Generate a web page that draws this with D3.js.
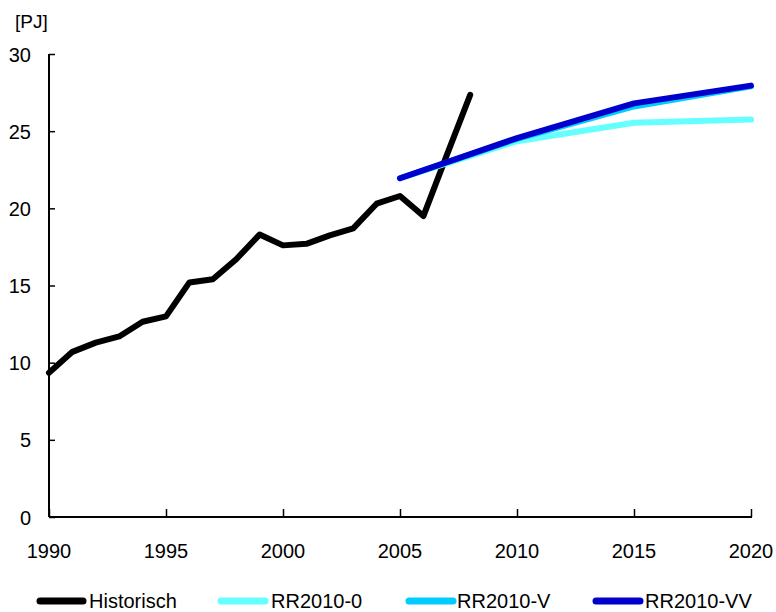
<!DOCTYPE html>
<html><head><meta charset="utf-8">
<script src="https://cdn.jsdelivr.net/npm/d3@7"></script>
<style>body{margin:0;background:#fff}svg{display:block}text{font-family:"Liberation Sans",Arial,sans-serif;fill:#000}</style>
</head><body>
<svg id="c" width="776" height="612"></svg>
<script>
const histYears = [1990,1991,1992,1993,1994,1995,1996,1997,1998,1999,2000,2001,2002,2003,2004,2005,2006,2007,2008];
const histValues = [9.35,10.7,11.3,11.7,12.65,13.0,15.2,15.4,16.7,18.3,17.6,17.7,18.25,18.7,20.3,20.8,19.5,23.45,27.35];
const scenYears = [2005,2010,2015,2020];
const rr0Values = [21.95,24.35,25.55,25.75];
const rrVValues = [21.95,24.5,26.6,27.9];
const rrVVValues = [21.95,24.55,26.8,27.95];
const xTicks = [1990,1995,2000,2005,2010,2015,2020];
const yTicks = [0,5,10,15,20,25,30];
const seriesNames = ["Historisch","RR2010-0","RR2010-V","RR2010-VV"];
const seriesColors = ["#000000","#66FFFF","#00CCFF","#0000CC"];

const svg = d3.select("#c");
const x = d3.scaleLinear().domain([1990,2020]).range([49,751]);
const y = d3.scaleLinear().domain([0,30]).range([517,54]);

// y axis
const yAxis = svg.append("g").attr("transform","translate(49,0)")
  .call(d3.axisRight(y).tickValues(yTicks).tickSize(6).tickFormat(""));
yAxis.select(".domain").attr("d","M0,54V517").attr("stroke","#000").attr("stroke-width",2);
yAxis.selectAll(".tick line").attr("stroke","#000").attr("stroke-width",1.5);
svg.selectAll(".ylab").data(yTicks).enter().append("text")
  .attr("x",31).attr("y",d=>y(d)+7.5).attr("text-anchor","end")
  .style("font-size","20px").text(d=>d);

// x axis
const xAxis = svg.append("g").attr("transform","translate(0,517)")
  .call(d3.axisTop(x).tickValues(xTicks).tickSize(8).tickFormat(""));
xAxis.select(".domain").attr("d","M49,0H752").attr("stroke","#000").attr("stroke-width",2);
xAxis.selectAll(".tick line").attr("stroke","#000").attr("stroke-width",1.5);
svg.selectAll(".xlab").data(xTicks).enter().append("text")
  .attr("x",d=>x(d)).attr("y",558).attr("text-anchor","middle")
  .style("font-size","20px").text(d=>d);

svg.append("text").attr("x",15).attr("y",28).style("font-size","19px").text("[PJ]");

const line = d3.line().x(d=>x(d[0])).y(d=>y(d[1]));
const series = [
  histYears.map((t,i)=>[t,histValues[i]]),
  scenYears.map((t,i)=>[t,rr0Values[i]]),
  scenYears.map((t,i)=>[t,rrVValues[i]]),
  scenYears.map((t,i)=>[t,rrVVValues[i]])
];
series.forEach((s,i)=>{
  svg.append("path").datum(s).attr("d",line).attr("fill","none")
    .attr("stroke",seriesColors[i]).attr("stroke-width",6)
    .attr("stroke-linejoin","round").attr("stroke-linecap","round");
});

// legend
const legX = [[40,83,89],[221,265,271],[409,453,457],[596,640,645]];
seriesNames.forEach((n,i)=>{
  svg.append("line").attr("x1",legX[i][0]).attr("x2",legX[i][1]).attr("y1",601).attr("y2",601)
    .attr("stroke",seriesColors[i]).attr("stroke-width",7).attr("stroke-linecap","round");
  svg.append("text").attr("x",legX[i][2]).attr("y",608).style("font-size","20px").text(n);
});
</script>
</body></html>
